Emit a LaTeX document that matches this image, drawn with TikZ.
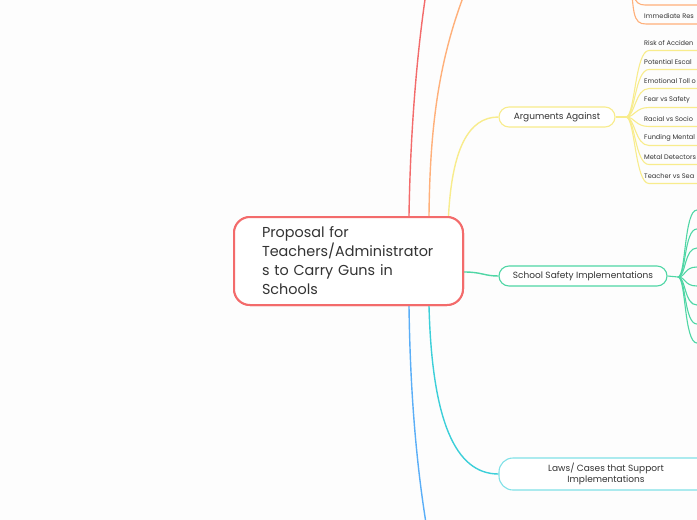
\documentclass[tikz,border=0pt]{standalone}
\usepackage{fontspec}
\setmainfont{Poppins}
\usetikzlibrary{calc}
\definecolor{bg}{HTML}{FDFDFD}
\definecolor{txt}{HTML}{333333}
\definecolor{cred}{HTML}{F36B6B}
\definecolor{corg}{HTML}{FFB07A}
\definecolor{cyel}{HTML}{F8EC8C}
\definecolor{cgrn}{HTML}{4FD6A5}
\definecolor{ccyn}{HTML}{3CCFD9}
\definecolor{ccyl}{HTML}{80E1E7}
\definecolor{cblu}{HTML}{5AAEF7}
\begin{document}
\begin{tikzpicture}[x=1pt,y=-1pt,line join=round,
  link/.style={line width=1.4pt},
  sub/.style={line width=1.1pt},
  central/.style={draw=cred, line width=2pt, rounded corners=16pt, fill=white,
    minimum width=229pt, minimum height=88pt, inner xsep=28pt, inner ysep=0pt,
    text width=173pt, align=left, text=txt, font=\fontsize{14.4}{19}\selectfont},
  pill/.style={draw, rounded corners=10pt, line width=1.1pt, fill=white,
    font=\fontsize{9}{10.5}\selectfont, text=txt, inner sep=0pt, minimum height=20pt},
  leaf/.style={font=\fontsize{6.6}{8}\selectfont, text=txt, anchor=west, inner sep=0pt}]
\useasboundingbox[fill=bg] (0,0) rectangle (697,520);
\clip (0,0) rectangle (697,520);

% central
\node[central] (c) at (348.5,261) {Proposal for\\Teachers/Administrator\\s to Carry Guns in\\Schools};

% main topics
\node[pill, draw=cyel, minimum width=116pt] (arg) at (557,117) {Arguments Against};
\node[pill, draw=cgrn, minimum width=168pt] (saf) at (583,276) {School Safety Implementations};
\node[pill, draw=ccyl, minimum width=214pt, minimum height=32pt, rounded corners=14pt, align=center] (law) at (606,474) {Laws/ Cases that Support\\Implementations};

% free ends
\coordinate (redend) at (428,-20);
\coordinate (orgend) at (472,-25);
\coordinate (bluend) at (428,535);

% branches from central node
\draw[link, cred] ($(c.north)+(60.5,0)$) .. controls (410,150) and (415,60) .. (redend);
\draw[link, corg] ($(c.north)+(80.5,0)$) .. controls (430,120) and (440,50) .. (orgend);
\draw[link, cyel] ($(c.north)+(100,0)$) .. controls (452,150) and (468,117) .. (arg.west);
\draw[link, cgrn] ($(c.east)+(0,11)$) .. controls (482,272) and (484,276) .. (saf.west);
\draw[link, ccyn] ($(c.south)+(80.5,0)$) .. controls (432,420) and (455,474) .. (law.west);
\draw[link, cblu] ($(c.south)+(60.5,0)$) .. controls (410,380) and (415,460) .. (bluend);

% redraw central node on top of branch ends
\node[central] at (c) {Proposal for\\Teachers/Administrator\\s to Carry Guns in\\Schools};

% Arguments Against children
\coordinate (aj) at (626,117);
\draw[sub, cyel] (arg.east) -- (aj);
\foreach \i/\y/\t in {1/50.5/Risk of Acciden,2/69.5/Potential Escal,3/88.5/Emotional Toll o,4/107.5/Fear vs Safety,5/126.5/Racial vs Socio,6/145.5/Funding Mental,7/164.5/Metal Detectors,8/183.5/Teacher vs Sea}{
  \node[leaf] (a\i) at (644,\y-7.5) {\t};
  \coordinate (u\i) at (649,\y);
  \draw[sub, cyel] (aj) .. controls +(9,0) and +(-14,0) .. (u\i) -- ++(60,0);
}

% School Safety children
\coordinate (gj) at (678,277);
\draw[sub, cgrn] (saf.east) -- (gj);
\foreach \i/\y in {1/210,2/229,3/248,4/267,5/286,6/305,7/324,8/343}{
  \coordinate (g\i) at (697,\y);
  \draw[sub, cgrn] (gj) .. controls +(8,0) and +(-13,0) .. (g\i) -- ++(30,0);
}

% Orange children at top
\coordinate (oj) at (631,-45);
\coordinate (o1) at (645,5);
\coordinate (o2) at (646,24);
\draw[sub, corg] (oj) .. controls (631,-5) and (633,5) .. (o1) -- ++(60,0);
\draw[sub, corg] (oj) .. controls (632,15) and (633,24) .. (o2) -- ++(60,0);
\node[leaf] (ir) at (644,16.5) {Immediate Res};
\end{tikzpicture}
\end{document}
